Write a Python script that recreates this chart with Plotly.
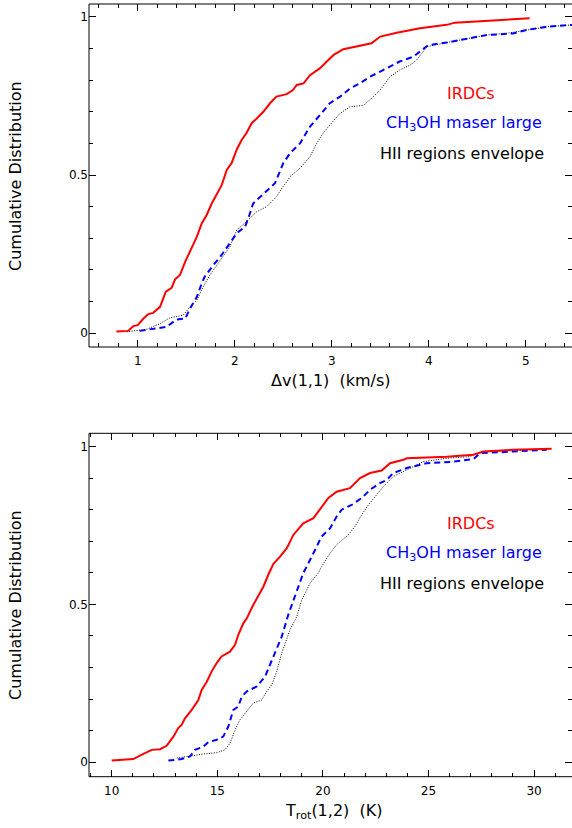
import plotly.graph_objects as go

# ---- Delta v(1,1) cumulative distributions (km/s) ----
dv_irdc = [0.78, 0.90, 0.955, 1.00, 1.06, 1.11, 1.16, 1.23, 1.29, 1.35, 1.385, 1.436, 1.49,
           1.546, 1.61, 1.66, 1.71, 1.763, 1.81, 1.866, 1.918, 1.97, 2.02, 2.07, 2.12, 2.175,
           2.227, 2.295, 2.364, 2.43, 2.536, 2.60, 2.64, 2.71, 2.776, 2.88, 2.965, 3.02, 3.12,
           3.26, 3.41, 3.50, 3.67, 3.91, 4.185, 4.27, 4.53, 4.80, 5.04]
cdf_dv_irdc = [0.005, 0.007, 0.022, 0.025, 0.046, 0.060, 0.064, 0.083, 0.131, 0.143, 0.170,
               0.184, 0.226, 0.265, 0.305, 0.347, 0.373, 0.410, 0.437, 0.468, 0.516, 0.539,
               0.580, 0.610, 0.632, 0.664, 0.679, 0.700, 0.727, 0.748, 0.756, 0.769, 0.785,
               0.790, 0.816, 0.838, 0.864, 0.880, 0.898, 0.908, 0.917, 0.938, 0.950, 0.964,
               0.975, 0.982, 0.987, 0.993, 0.996]

dv_maser = [1.02, 1.23, 1.30, 1.40, 1.49, 1.54, 1.61, 1.66, 1.69, 1.78, 1.85, 1.95, 2.02, 2.106,
            2.14, 2.19, 2.26, 2.33, 2.415, 2.50, 2.57, 2.673, 2.776, 2.88, 2.98, 3.086, 3.19,
            3.29, 3.395, 3.50, 3.60, 3.70, 3.84, 3.94, 3.996, 4.185, 4.39, 4.60, 4.87, 5.01,
            5.22, 5.48]
cdf_dv_maser = [0.007, 0.015, 0.020, 0.043, 0.046, 0.078, 0.115, 0.157, 0.178, 0.215, 0.241,
                0.284, 0.316, 0.336, 0.363, 0.410, 0.430, 0.452, 0.474, 0.537, 0.569, 0.600,
                0.653, 0.690, 0.727, 0.748, 0.774, 0.790, 0.811, 0.827, 0.843, 0.859, 0.874,
                0.896, 0.911, 0.919, 0.930, 0.943, 0.948, 0.959, 0.969, 0.975]

dv_hii = [0.886, 1.09, 1.23, 1.33, 1.47, 1.54, 1.61, 1.676, 1.745, 1.85, 1.95, 2.02, 2.12,
          2.227, 2.33, 2.43, 2.49, 2.55, 2.57, 2.673, 2.776, 2.845, 2.91, 2.98, 3.086, 3.19,
          3.326, 3.43, 3.50, 3.60, 3.70, 3.81, 3.876, 3.93, 3.98, 4.185, 4.39, 4.60, 4.80,
          5.04, 5.22, 5.48]
cdf_dv_hii = [0.004, 0.012, 0.030, 0.048, 0.057, 0.083, 0.104, 0.147, 0.184, 0.231, 0.273,
              0.326, 0.352, 0.384, 0.400, 0.431, 0.460, 0.484, 0.495, 0.521, 0.558, 0.600,
              0.632, 0.658, 0.695, 0.716, 0.720, 0.748, 0.769, 0.811, 0.832, 0.848, 0.864,
              0.885, 0.906, 0.919, 0.930, 0.943, 0.948, 0.960, 0.969, 0.975]

# ---- T_rot(1,2) cumulative distributions (K) ----
t_irdc = [10.0, 11.02, 11.5, 11.9, 12.29, 12.6, 12.92, 13.15, 13.31, 13.47, 13.79, 14.1, 14.26,
          14.5, 14.73, 14.97, 15.2, 15.6, 15.84, 15.99, 16.23, 16.39, 16.7, 16.94, 17.18, 17.41,
          17.65, 17.97, 18.29, 18.6, 19.07, 19.55, 19.86, 20.26, 20.65, 21.28, 21.76, 22.23,
          22.78, 23.18, 23.81, 23.97, 25.86, 27.12, 27.6, 29.0, 30.83]
cdf_t_irdc = [0.005, 0.010, 0.026, 0.039, 0.041, 0.052, 0.081, 0.108, 0.118, 0.139, 0.166,
              0.197, 0.229, 0.255, 0.287, 0.314, 0.335, 0.350, 0.372, 0.403, 0.440, 0.455,
              0.498, 0.525, 0.556, 0.593, 0.628, 0.651, 0.678, 0.720, 0.757, 0.773, 0.800,
              0.837, 0.857, 0.868, 0.900, 0.916, 0.924, 0.947, 0.958, 0.963, 0.968, 0.974,
              0.984, 0.990, 0.993]

t_maser = [12.68, 13.31, 13.71, 13.94, 14.34, 14.57, 14.97, 15.28, 15.52, 15.76, 15.99, 16.16,
           16.39, 16.87, 17.26, 17.5, 17.73, 18.05, 18.36, 18.68, 19.07, 19.47, 19.94, 20.34,
           20.65, 20.89, 21.36, 21.84, 22.23, 22.7, 23.02, 23.33, 23.97, 24.91, 26.17, 27.12,
           27.44, 29.0, 30.6]
cdf_t_maser = [0.005, 0.010, 0.018, 0.039, 0.049, 0.063, 0.071, 0.081, 0.113, 0.166, 0.176,
               0.208, 0.224, 0.240, 0.271, 0.308, 0.345, 0.398, 0.467, 0.525, 0.599, 0.651,
               0.715, 0.741, 0.778, 0.800, 0.815, 0.837, 0.863, 0.884, 0.894, 0.916, 0.932,
               0.947, 0.952, 0.960, 0.979, 0.984, 0.990]

t_hii = [13.08, 13.71, 14.34, 14.97, 15.36, 15.6, 15.84, 16.07, 16.39, 16.7, 17.1, 17.34, 17.58,
         17.81, 18.05, 18.29, 18.44, 18.76, 19.0, 19.39, 19.78, 19.94, 20.34, 20.65, 21.2,
         21.52, 21.84, 22.15, 22.47, 22.86, 23.33, 24.12, 24.75, 25.86, 26.96, 27.44, 29.0, 30.6]
cdf_t_hii = [0.013, 0.020, 0.026, 0.030, 0.039, 0.060, 0.102, 0.134, 0.160, 0.187, 0.197,
             0.224, 0.245, 0.287, 0.345, 0.388, 0.419, 0.461, 0.514, 0.567, 0.599, 0.620,
             0.662, 0.689, 0.720, 0.747, 0.784, 0.815, 0.842, 0.873, 0.905, 0.932, 0.952,
             0.963, 0.968, 0.982, 0.987, 0.992]

series_names = ["IRDCs", "CH<sub>3</sub>OH maser large", "HII regions envelope"]
y_ticks = [0, 0.5, 1]
y_tick_text = ["0", "0.5", "1"]
dv_ticks = [1, 2, 3, 4, 5]
t_ticks = [10, 15, 20, 25, 30]

W, H = 572, 828
FONT = "DejaVu Sans"
RED, BLUE, BLACK = "#ff0000", "#0000ff", "#000000"


def px(x, y):
    """pixel position -> paper coordinates"""
    return x / W, 1 - y / H


fig = go.Figure()

styles = [
    dict(color=BLACK, width=1, dash="1px,1.5px"),
    dict(color=BLUE, width=2, dash="6px,4px"),
    dict(color=RED, width=2),
]

# top panel
for (x, y), st in zip([(dv_hii, cdf_dv_hii), (dv_maser, cdf_dv_maser), (dv_irdc, cdf_dv_irdc)], styles):
    fig.add_trace(go.Scatter(x=x, y=y, mode="lines", line=st, xaxis="x", yaxis="y", showlegend=False))
# bottom panel
for (x, y), st in zip([(t_hii, cdf_t_hii), (t_maser, cdf_t_maser), (t_irdc, cdf_t_irdc)], styles):
    fig.add_trace(go.Scatter(x=x, y=y, mode="lines", line=st, xaxis="x2", yaxis="y2", showlegend=False))

left, right = px(89, 0)[0], 1.0
top_dom = [px(0, 347)[1], px(0, 4)[1]]
bot_dom = [px(0, 776.7)[1], px(0, 433.3)[1]]

common_axis = dict(showline=False, ticks="inside", mirror="ticks", tickcolor=BLACK,
                   tickwidth=1, ticklen=7, showgrid=False, zeroline=False,
                   tickfont=dict(family=FONT, size=12, color=BLACK))

fig.update_layout(
    width=W, height=H, margin=dict(l=0, r=0, t=0, b=0),
    paper_bgcolor="white", plot_bgcolor="white",
    xaxis=dict(common_axis, domain=[left, right], range=[0.498, 5.477], anchor="y",
               tickvals=dv_ticks, ticktext=[str(v) for v in dv_ticks], ticklabelstandoff=5,
               minor=dict(ticks="inside", ticklen=4, dtick=0.2, tick0=0, tickcolor=BLACK)),
    yaxis=dict(common_axis, domain=top_dom, range=[-0.044, 1.041], anchor="x",
               tickvals=y_ticks, ticktext=y_tick_text,
               minor=dict(ticks="inside", ticklen=4, dtick=0.1, tick0=0, tickcolor=BLACK)),
    xaxis2=dict(common_axis, domain=[left, right], range=[8.925, 31.794], anchor="y2",
                tickvals=t_ticks, ticktext=[str(v) for v in t_ticks], ticklabelstandoff=5,
                minor=dict(ticks="inside", ticklen=4, dtick=1, tick0=0, tickcolor=BLACK)),
    yaxis2=dict(common_axis, domain=bot_dom, range=[-0.046, 1.042], anchor="x2",
                tickvals=y_ticks, ticktext=y_tick_text,
                minor=dict(ticks="inside", ticklen=4, dtick=0.1, tick0=0, tickcolor=BLACK)),
)

# frame lines: left, bottom and top of each panel
for dom in (top_dom, bot_dom):
    for x0, y0, x1, y1 in [(left, dom[0], left, dom[1]), (left, dom[0], right, dom[0]),
                           (left, dom[1], right, dom[1])]:
        fig.add_shape(type="line", xref="paper", yref="paper", x0=x0, y0=y0, x1=x1, y1=y1,
                      line=dict(color=BLACK, width=1))

def label(text, xpix, ypix, color=BLACK, size=16, angle=0):
    x, y = px(xpix, ypix)
    fig.add_annotation(text=text, x=x, y=y, xref="paper", yref="paper", showarrow=False,
                       xanchor="center", yanchor="middle", textangle=angle,
                       font=dict(family=FONT, size=size, color=color))

# axis titles
label("Δv(1,1)  (km/s)", 331, 380)
label("Cumulative Distribution", 15, 176, angle=-90)
label("T<sub>rot</sub>(1,2)  (K)", 333, 811)
label("Cumulative Distribution", 15, 605, angle=-90)

# series labels
for y0 in (93.3, 523.3):
    label(series_names[0], 470.5, y0, RED)
    label(series_names[1], 464, y0 + 30, BLUE)
    label(series_names[2], 461.7, y0 + 60, BLACK)

fig.write_html("out.html")
